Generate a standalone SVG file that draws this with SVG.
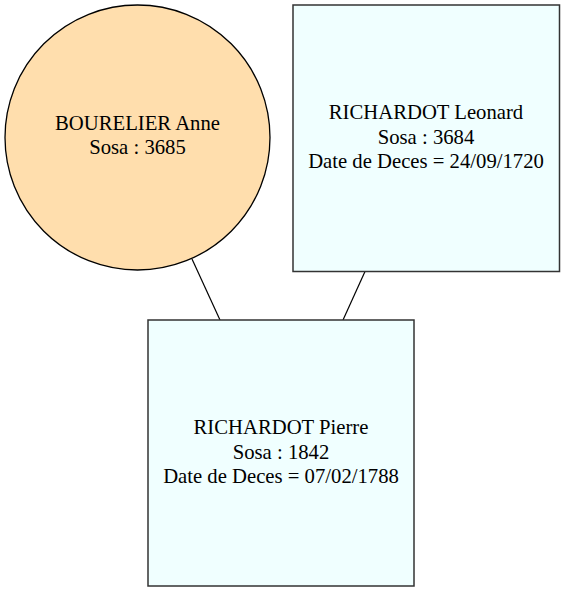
<svg xmlns="http://www.w3.org/2000/svg" width="565" height="592" viewBox="0 0 565 592">
<style>
.lbl{font-family:'Liberation Serif',Tinos,'Times New Roman',Times,'DejaVu Serif',serif;font-size:20.7px;fill:#000;text-anchor:middle}
.box{fill:#F0FFFF;stroke:#333;stroke-width:1.5}
.circ{fill:#FFDEAD;stroke:#000;stroke-width:1.3}
.edge{stroke:#000;stroke-width:1.2;fill:none}
</style>
<rect width="565" height="592" fill="#fff"/>
<g id="connectors">
<line class="edge" x1="192" y1="259" x2="220" y2="320"/>
<line class="edge" x1="365" y1="271.5" x2="343" y2="320"/>
</g>
<g id="node-bourelier">
<circle class="circ" cx="137.5" cy="137.5" r="132.5"/>
<text class="lbl" x="137.5" y="129.5">BOURELIER Anne</text>
<text class="lbl" x="137.5" y="154">Sosa : 3685</text>
</g>
<g id="node-leonard">
<rect class="box" x="293" y="5" width="266.5" height="266.5"/>
<text class="lbl" x="426" y="119">RICHARDOT Leonard</text>
<text class="lbl" x="426" y="143.5">Sosa : 3684</text>
<text class="lbl" x="426" y="168">Date de Deces = 24/09/1720</text>
</g>
<g id="node-pierre">
<rect class="box" x="148" y="320" width="266" height="266"/>
<text class="lbl" x="281" y="434">RICHARDOT Pierre</text>
<text class="lbl" x="281" y="458.5">Sosa : 1842</text>
<text class="lbl" x="281" y="483">Date de Deces = 07/02/1788</text>
</g>
</svg>
